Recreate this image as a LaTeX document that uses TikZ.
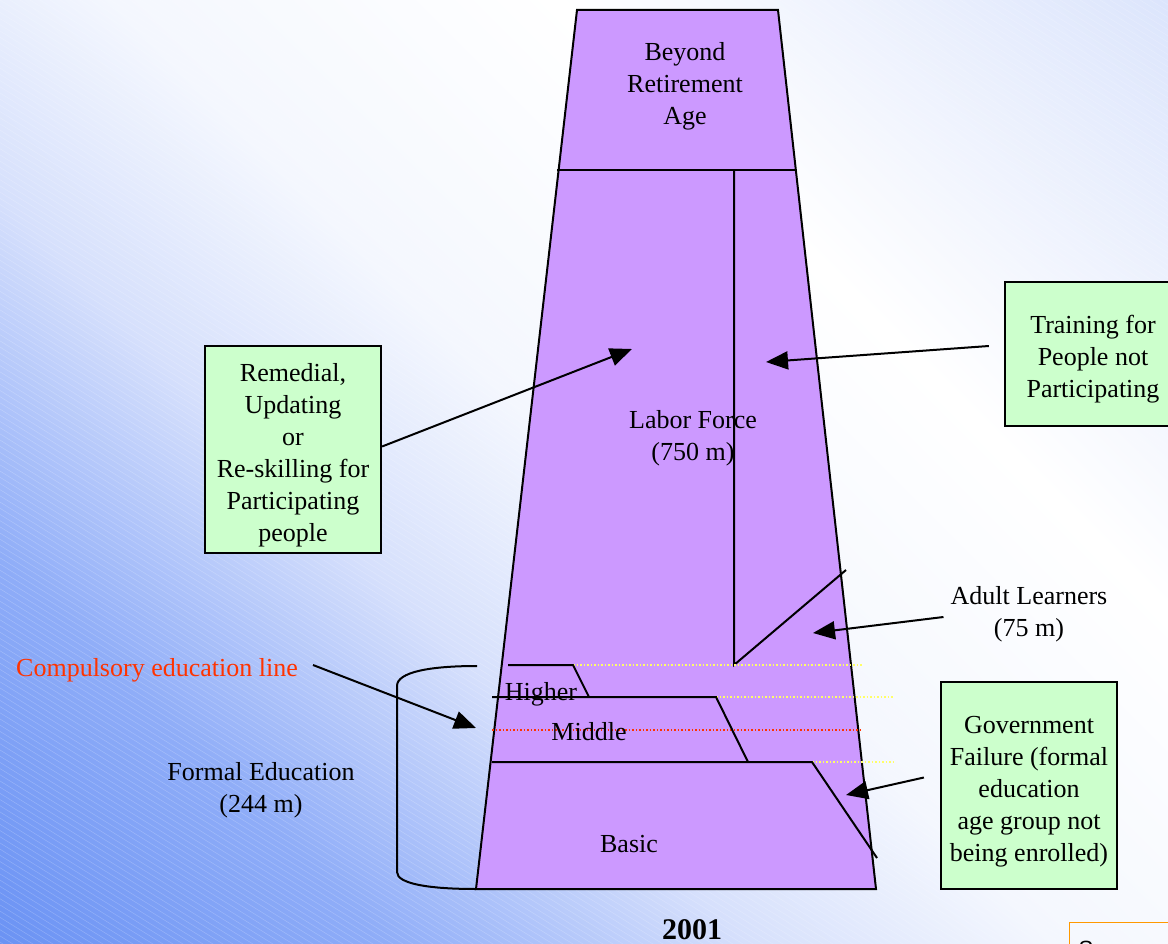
\documentclass[tikz,border=0pt]{standalone}
\usepackage{fontspec}
\setmainfont{Liberation Serif}
\newfontfamily\srcfont{Liberation Sans}
\usetikzlibrary{arrows.meta}
\definecolor{trap}{HTML}{CC99FF}
\definecolor{boxgreen}{HTML}{CCFFCC}
\definecolor{redlab}{HTML}{FF3300}
\definecolor{dotyellow}{HTML}{FFFF66}
\definecolor{dotred}{HTML}{FF3300}
\definecolor{srcorange}{HTML}{FF9900}
\pgfdeclareverticalshading{bgshade}{100bp}{rgb(0bp)=(0.40,0.56,0.95); rgb(14.6bp)=(0.42,0.576,0.957); rgb(27.5bp)=(0.561,0.678,0.973); rgb(39.6bp)=(0.839,0.878,0.988); rgb(50bp)=(0.957,0.969,0.996); rgb(65bp)=(1,1,1); rgb(85.4bp)=(0.863,0.898,0.988); rgb(100bp)=(0.83,0.87,0.98)}
\newcommand{\boxstrut}{\rule{0pt}{29pt}}
\tikzset{
  lbl/.style={font=\fontsize{26}{32}\selectfont, align=center, inner sep=0pt},
  gbox/.style={lbl, draw=black, fill=boxgreen, line width=2.2pt, minimum width=176pt},
  edge/.style={line width=2pt, black},
  arr/.style={line width=2pt, -{Triangle[length=22pt,width=18pt]}},
  ydot/.style={dotyellow, line width=1.5pt, dotted},
  rdot/.style={dotred, line width=1.5pt, dotted},
}
\begin{document}
\begin{tikzpicture}[x=1pt,y=-1pt]
\useasboundingbox (0,0) rectangle (1168,944);
% background
\shade[shading=bgshade, shading angle=-45] (0,0) rectangle (1168,944);
\begin{scope}
\clip (0,0) rectangle (1168,944);
\foreach \i in {-160,...,120}
  \draw[white, opacity=0.22, line width=0.5pt] (\i*10,0) -- ++(1523,944);
\end{scope}

% trapezoid
\draw[edge, fill=trap, line join=miter] (577,10) -- (778,10) -- (876,889) -- (476,889) -- cycle;
\draw[edge] (557,170) -- (797,170);
\draw[edge] (734,170) -- (734,665) -- (846,570);

% dotted lines
\draw[ydot] (573,665) -- (862,665);
\draw[ydot] (716,697) -- (893,697);
\draw[ydot] (812,762) -- (893,762);
\draw[rdot] (492,730) -- (860,730);

% education levels
\draw[edge] (508,665) -- (573,665) -- (589,697);
\draw[edge] (492,697) -- (716,697) -- (748,762);
\draw[edge] (492,762) -- (812,762) -- (877,858);

% bracket
\draw[edge] (477,666) .. controls (430,666) and (397,672) .. (397,686) -- (397,872) .. controls (397,884) and (430,889) .. (476,889);

% labels in trapezoid
\node[lbl] (beyond) at (685,86) {Beyond\\Retirement\\Age};
\node[lbl] (labor) at (693,438) {Labor Force\\(750 m)};
\node[lbl] (higher) at (541,694) {Higher};
\node[lbl] (middle) at (589,732) {Middle};
\node[lbl] (basic) at (629,844) {Basic};

% outside labels
\node[lbl] (adult) at (1029,614) {Adult Learners\\(75 m)};
\node[lbl] (formal) at (261,790) {Formal Education\\(244 m)};
\node[lbl, text=redlab] (compul) at (157,670) {Compulsory education line};
\node[lbl, font=\fontsize{30}{34}\selectfont\bfseries] (year) at (692,930) {2001};

% green boxes
\node[gbox, minimum height=207pt] (remedial) at (293,449.5) {\boxstrut Remedial,\\Updating\\or\\Re-skilling for\\Participating\\people};
\node[gbox, minimum height=144pt] (training) at (1093,354) {\boxstrut Training for\\People not\\Participating};
\node[gbox, minimum height=207pt] (govt) at (1029,785.5) {\boxstrut Government\\Failure (formal\\education\\age group not\\being enrolled)};

% source box
\node[draw=srcorange, line width=1.4pt, anchor=north west, inner xsep=9pt, inner ysep=18pt, text width=180pt, align=left, font=\srcfont\fontsize{22}{26}\selectfont] (src) at (1069,922) {Sources:};

% arrow targets
\coordinate (tLabor) at (632,349);
\coordinate (tTrain) at (766,362);
\coordinate (tAdult) at (813,633);
\coordinate (tComp) at (476,728);
\coordinate (tGov) at (846,795);

\draw[arr] (remedial.east) ++(0,-3) -- (tLabor);
\draw[arr] ([xshift=-15pt]training.west) ++(0,-8) -- (tTrain);
\draw[arr] ([xshift=-7pt]adult.west) ++(0,3) -- (tAdult);
\draw[arr] ([xshift=15pt]compul.east) ++(0,-5) -- (tComp);
\draw[arr] ([xshift=-16pt]govt.west) ++(0,-8) -- (tGov);
\end{tikzpicture}
\end{document}
